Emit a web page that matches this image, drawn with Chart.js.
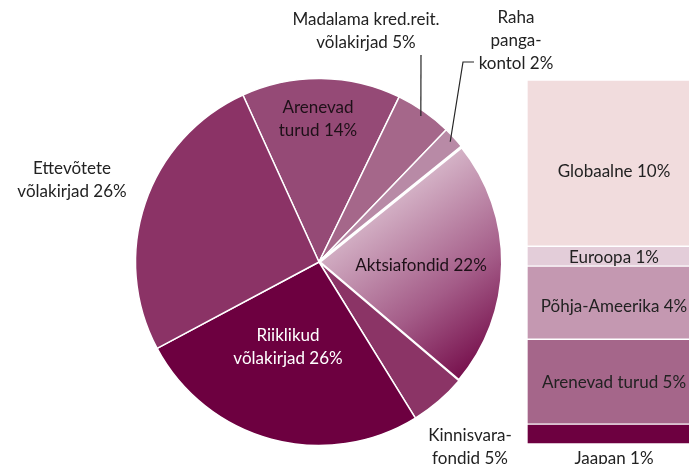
<!DOCTYPE html>
<html>
<head>
<meta charset="utf-8">
<script src="https://cdn.jsdelivr.net/npm/chart.js@4.4.0/dist/chart.umd.min.js"></script>
<style>
  html, body { margin: 0; padding: 0; background: #fff; overflow: hidden; }
  #wrap { position: relative; width: 689px; height: 464px; overflow: hidden; }
  #wrap canvas { position: absolute; left: 0; top: 0; }
</style>
</head>
<body>
<div id="wrap">
  <canvas id="chartPie" width="689" height="464" style="width:689px;height:464px"></canvas>
  <canvas id="chartBar" width="700" height="464" style="width:700px;height:464px"></canvas>
</div>
<script>
/* ── Data ────────────────────────────────────────── */
const pieLabels = [
  ['Arenevad', 'turud 14%'],
  ['Madalama kred.reit.', 'võlakirjad 5%'],
  ['Raha', 'panga-', 'kontol 2%'],
  ['Aktsiafondid 22%'],
  ['Kinnisvara-', 'fondid 5%'],
  ['Riiklikud', 'võlakirjad 26%'],
  ['Ettevõtete', 'võlakirjad 26%'],
];
const pieValues = [14, 5, 2, 22, 5, 26, 26];
const pieColors = ['#954a76', '#a5678a', '#b88aa6', null, '#8b3466', '#6d0040', '#8b3366'];

// breakdown of Aktsiafondid, bottom to top (bar heights)
const barLabels = ['Jaapan 1%', 'Arenevad turud 5%', 'Põhja-Ameerika 4%', 'Euroopa 1%', 'Globaalne 10%'];
const barValues = [1.2, 5.1, 4.4, 1.2, 10.0];
const barColors = ['#6d0040', '#a5668a', '#c498b1', '#e3cdd9', '#f1dcdd'];

/* ── Layout (label anchors, px) ── */
const pieLabelPos = [[318, 119], [366, 31], [516, 41], [421, 266], [470, 447], [288, 347], [72, 180]];
const pieLabelColor = ['#1e1018', '#222', '#222', '#1e1018', '#222', '#fff', '#222'];
const leaderFor = { 1: [[421, 55]], 2: [[474, 62], [463, 62]] };
const barLabelDy = [0, 1, 4, 1, 8];

const FONT = '17px Lato, "Open Sans", sans-serif';
const LINE_H = 23;

function drawLines(ctx, lines, x, y, color) {
  ctx.fillStyle = color;
  lines.forEach((t, k) => ctx.fillText(t, x, y + (k - (lines.length - 1) / 2) * LINE_H));
}

function equityGradient(chart) {
  const a = chart.chartArea;
  if (!a) return '#a0507e';
  const cx = (a.left + a.right) / 2, cy = (a.top + a.bottom) / 2, r = (a.right - a.left) / 2;
  const g = chart.ctx.createLinearGradient(cx + 0.12 * r, cy - 0.4 * r, cx + 0.89 * r, cy + 0.65 * r);
  g.addColorStop(0, '#e6d2dd');
  g.addColorStop(0.6, '#a45c88');
  g.addColorStop(1, '#6d0040');
  return g;
}

/* ── Pie labels + leader lines ── */
const pieLabelPlugin = {
  id: 'pieLabels',
  afterDraw(chart) {
    const ctx = chart.ctx;
    const arcs = chart.getDatasetMeta(0).data;
    ctx.save();
    ctx.strokeStyle = '#262626';
    ctx.lineWidth = 1.2;
    Object.entries(leaderFor).forEach(([i, pts]) => {
      const arc = arcs[i];
      const mid = (arc.startAngle + arc.endAngle) / 2;
      const r = arc.outerRadius * 0.97;
      ctx.beginPath();
      ctx.moveTo(pts[0][0], pts[0][1]);
      pts.slice(1).forEach(p => ctx.lineTo(p[0], p[1]));
      ctx.lineTo(arc.x + Math.cos(mid) * r, arc.y + Math.sin(mid) * r);
      ctx.stroke();
    });
    ctx.font = FONT;
    ctx.textAlign = 'center';
    ctx.textBaseline = 'middle';
    pieLabels.forEach((lines, i) => {
      const [x, y] = pieLabelPos[i];
      drawLines(ctx, lines, x, y, pieLabelColor[i]);
    });
    ctx.restore();
  }
};

new Chart(document.getElementById('chartPie'), {
  type: 'pie',
  data: {
    labels: pieLabels.map(l => l.join(' ')),
    datasets: [{
      data: pieValues,
      backgroundColor: c => pieColors[c.dataIndex] || equityGradient(c.chart),
      borderColor: '#fff',
      borderWidth: [1.5, 1.5, 1.5, 3, 1.5, 1.5, 1.5],
    }]
  },
  options: {
    responsive: false,
    animation: false,
    rotation: -24.5,
    layout: { padding: { left: 134, right: 185, top: 77, bottom: 17 } },
    plugins: { legend: { display: false }, tooltip: { enabled: false } }
  },
  plugins: [pieLabelPlugin]
});

/* ── Stacked bar labels ── */
const barLabelPlugin = {
  id: 'barLabels',
  afterDatasetsDraw(chart) {
    const ctx = chart.ctx;
    ctx.save();
    ctx.font = FONT;
    ctx.textAlign = 'center';
    ctx.textBaseline = 'middle';
    ctx.fillStyle = '#222';
    barLabels.forEach((label, i) => {
      const el = chart.getDatasetMeta(i).data[0];
      const y = i === 0 ? el.base + 15 : (el.y + el.base) / 2 + barLabelDy[i];
      ctx.fillText(label, el.x + 4, y);
    });
    ctx.restore();
  }
};

new Chart(document.getElementById('chartBar'), {
  type: 'bar',
  data: {
    labels: ['Aktsiafondid'],
    datasets: barLabels.map((l, i) => ({
      label: l,
      data: [barValues[i]],
      backgroundColor: barColors[i],
      borderColor: '#fff',
      borderWidth: 1,
      borderSkipped: false,
      categoryPercentage: 1,
      barPercentage: 1,
    }))
  },
  options: {
    responsive: false,
    animation: false,
    layout: { padding: { left: 527, right: 7, top: 80, bottom: 20 } },
    plugins: { legend: { display: false }, tooltip: { enabled: false } },
    scales: {
      x: { stacked: true, display: false },
      y: { stacked: true, display: false, min: 0, max: barValues.reduce((a, b) => a + b, 0) }
    }
  },
  plugins: [barLabelPlugin]
});
</script>
</body>
</html>
